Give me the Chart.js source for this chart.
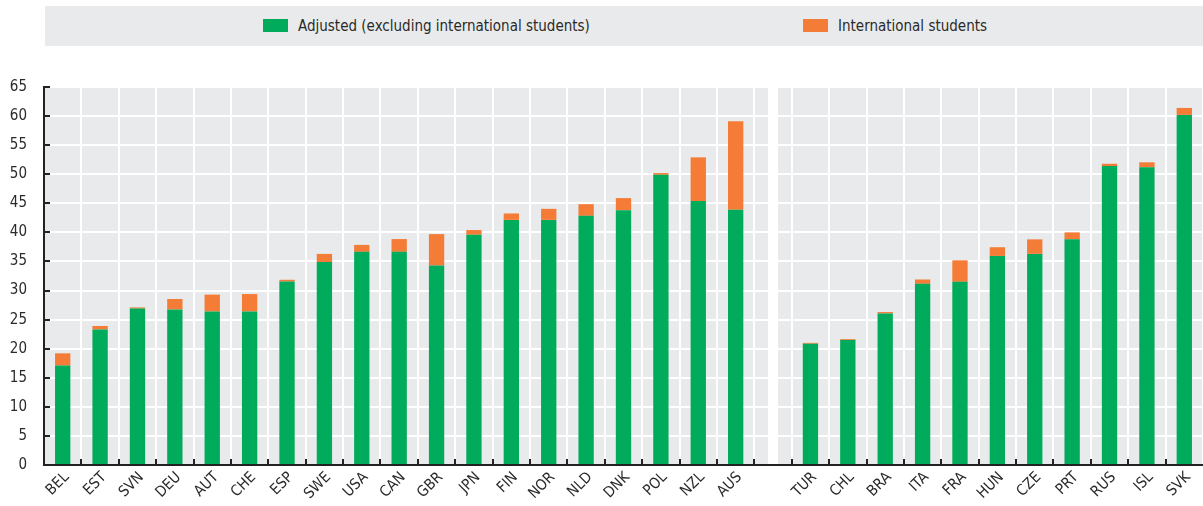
<!DOCTYPE html>
<html>
<head>
<meta charset="utf-8">
<script src="https://cdn.jsdelivr.net/npm/chart.js@4.4.1/dist/chart.umd.min.js"></script>
<style>
  html, body { margin: 0; padding: 0; background: #fff; }
  #wrap { position: relative; width: 1203px; height: 506px; }
  #legend {
    position: absolute; left: 45px; top: 6px; width: 1158px; height: 40px;
    background: #e9eaec; color: #2a2a2a;
    font: 15px 'DejaVu Sans Condensed', Arial, sans-serif;
  }
  .item { position: absolute; top: 0; height: 40px; line-height: 40px; white-space: nowrap; }
  .sw { display: inline-block; width: 25px; height: 13px; vertical-align: -1px; margin-right: 10px; }
  canvas { position: absolute; left: 0; top: 0; }
</style>
</head>
<body>
<div id="wrap">
  <canvas id="chart" width="1203" height="506"></canvas>
  <div id="legend">
    <div class="item" style="left:218px"><span class="sw" style="background:#00ab5c"></span>Adjusted (excluding international students)</div>
    <div class="item" style="left:758px"><span class="sw" style="background:#f47c36"></span>International students</div>
  </div>
</div>
<script>
  // ---- Data ----
  const leftCountries = ['BEL', 'EST', 'SVN', 'DEU', 'AUT', 'CHE', 'ESP', 'SWE', 'USA', 'CAN',
                         'GBR', 'JPN', 'FIN', 'NOR', 'NLD', 'DNK', 'POL', 'NZL', 'AUS'];
  const leftAdjusted = [17.1, 23.3, 26.9, 26.75, 26.4, 26.4, 31.55, 34.9, 36.65, 36.65,
                        34.3, 39.6, 42.15, 42.15, 42.85, 43.8, 49.9, 45.4, 43.9];
  const leftInternational = [2.1, 0.6, 0.2, 1.8, 2.9, 3.0, 0.3, 1.4, 1.2, 2.2,
                             5.4, 0.8, 1.1, 1.9, 2.0, 2.1, 0.3, 7.5, 15.2];

  const rightCountries = ['TUR', 'CHL', 'BRA', 'ITA', 'FRA', 'HUN', 'CZE', 'PRT', 'RUS', 'ISL', 'SVK'];
  const rightAdjusted = [20.85, 21.5, 26.05, 31.15, 31.5, 35.95, 36.3, 38.8, 51.4, 51.2, 60.2];
  const rightInternational = [0.15, 0.15, 0.25, 0.75, 3.7, 1.5, 2.5, 1.2, 0.4, 0.85, 1.2];

  const yTicks = [0, 65, 5]; // min, max, step

  // one empty slot separates the two panels
  const categories = [...leftCountries, '', ...rightCountries];
  const gapIndex = leftCountries.length;
  const adjusted = [...leftAdjusted, null, ...rightAdjusted];
  const international = [...leftInternational, null, ...rightInternational];

  const FONT = "'DejaVu Sans Condensed', Arial, sans-serif";
  const INK = '#222';
  const TEXT = '#2a2a2a';

  // gray plot panel, white split between panels, inner tick marks, slanted country labels
  const panels = {
    id: 'panels',
    beforeDraw(chart) {
      const { ctx, chartArea: a } = chart;
      ctx.save();
      ctx.fillStyle = '#e9eaec';
      ctx.fillRect(a.left, a.top, a.right - a.left, a.bottom - a.top);
      ctx.restore();
    },
    beforeDatasetsDraw(chart) {
      const { ctx, chartArea: a, scales } = chart;
      const x = scales.x.getPixelForValue(gapIndex);
      ctx.save();
      ctx.fillStyle = '#fff';
      ctx.fillRect(x - 5, a.top, 10, a.bottom - a.top - 1);
      ctx.restore();
    },
    afterDraw(chart) {
      const { ctx, chartArea: a, scales } = chart;
      ctx.save();
      ctx.strokeStyle = INK;
      ctx.lineWidth = 2;
      ctx.beginPath();
      const half = (scales.x.getPixelForValue(1) - scales.x.getPixelForValue(0)) / 2;
      for (let i = 1; i < categories.length; i++) {
        const x = Math.round(scales.x.getPixelForValue(i) - half);
        ctx.moveTo(x, a.bottom);
        ctx.lineTo(x, a.bottom - 6);
      }
      for (let v = yTicks[0] + yTicks[2]; v <= yTicks[1]; v += yTicks[2]) {
        const y = Math.round(scales.y.getPixelForValue(v));
        ctx.moveTo(a.left, y);
        ctx.lineTo(a.left + 6, y);
      }
      ctx.stroke();

      // country labels at 45 degrees
      ctx.fillStyle = TEXT;
      ctx.font = '15px ' + FONT;
      ctx.textAlign = 'right';
      ctx.textBaseline = 'middle';
      categories.forEach((lab, i) => {
        if (!lab) return;
        const x = scales.x.getPixelForValue(i);
        ctx.save();
        ctx.translate(x + 4, a.bottom + 10);
        ctx.rotate(-Math.PI / 4);
        ctx.fillText(lab, 0, 0);
        ctx.restore();
      });
      ctx.restore();
    }
  };

  new Chart(document.getElementById('chart'), {
    type: 'bar',
    data: {
      labels: categories,
      datasets: [
        { label: 'Adjusted (excluding international students)', data: adjusted, backgroundColor: '#00ab5c' },
        { label: 'International students', data: international, backgroundColor: '#f47c36' }
      ]
    },
    options: {
      responsive: false,
      animation: false,
      layout: { padding: { top: 87, right: 0, left: 0, bottom: 0 } },
      datasets: { bar: { barPercentage: 0.41, categoryPercentage: 1 } },
      plugins: { legend: { display: false }, tooltip: { enabled: false } },
      scales: {
        x: {
          stacked: true,
          afterFit(s) { s.height = 41; },
          grid: { color: '#fff', lineWidth: 2, drawTicks: false, offset: true },
          border: { color: INK, width: 2 },
          ticks: { display: false, autoSkip: false }
        },
        y: {
          stacked: true,
          min: yTicks[0], max: yTicks[1],
          afterFit(s) { s.width = 44; },
          grid: { color: '#fff', lineWidth: 2, drawTicks: false },
          border: { color: INK, width: 2 },
          ticks: { stepSize: yTicks[2], padding: 17, color: TEXT, font: { family: FONT, size: 15 } }
        }
      }
    },
    plugins: [panels]
  });
</script>
</body>
</html>
